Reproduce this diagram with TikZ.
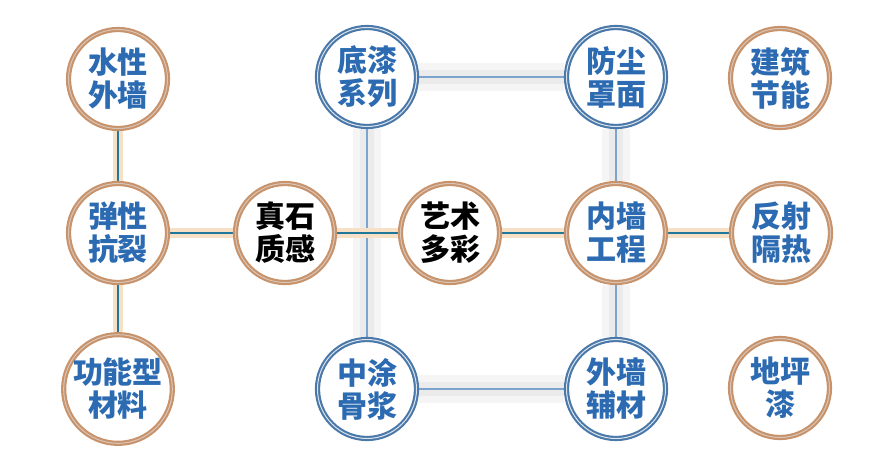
\documentclass[tikz,border=0pt]{standalone}
\usepackage{fontspec}
\usepackage{xcolor}
\usepackage{tikz}
\usetikzlibrary{backgrounds}
\newfontfamily\cjk{Noto Sans CJK SC}
\definecolor{txtblue}{HTML}{2C6BB2}
\definecolor{copper}{HTML}{C8926A}
\definecolor{copperdk}{HTML}{9C6E52}
\definecolor{ringblue}{HTML}{4A78A8}
\definecolor{tealline}{HTML}{1F789C}
\definecolor{glow}{HTML}{F6E0C6}
\definecolor{sqline}{HTML}{7DA4CF}
\tikzset{
  ball/.style  ={circle, fill=white, minimum size=49.5pt, inner sep=0pt, align=center,
                 font=\cjk\bfseries\fontsize{15}{16.5}\selectfont, text=txtblue},
  cball/.style ={ball, draw=copper, line width=2.6pt, postaction={draw=copperdk!40, line width=0.5pt}},
  bball/.style ={ball, draw=ringblue, line width=2.6pt, postaction={draw=white!80!ringblue, line width=0.5pt}},
  dark/.style  ={text=black},
  link/.style  ={draw=tealline, line width=1.1pt, preaction={draw=glow, line width=5pt}},
  frame/.style ={draw=sqline, line width=0.9pt,
                 preaction={draw=gray!8, line width=14pt},
                 preaction={draw=gray!16, line width=7pt}},
}
\begin{document}
\begin{tikzpicture}[x=0.5pt,y=-0.5pt]
  \useasboundingbox (0,0) rectangle (896,461);
  % top row
  \node[cball] (sx) at (118,79)  {水性\\外墙};
  \node[bball] (dq) at (367,77)  {底漆\\系列};
  \node[bball] (fc) at (616,77)  {防尘\\罩面};
  \node[cball] (jz) at (780,78)  {建筑\\节能};
  % middle row
  \node[cball] (tx) at (118,233) {弹性\\抗裂};
  \node[cball, dark] (zs) at (285,233) {真石\\质感};
  \node[cball, dark] (ys) at (450,233) {艺术\\多彩};
  \node[cball] (nq) at (616,233) {内墙\\工程};
  \node[cball] (fs) at (781,233) {反射\\隔热};
  % bottom row
  \node[cball] (gn) at (118,389) {功能型\\材料};
  \node[bball] (zt) at (367,389) {中涂\\骨浆};
  \node[bball] (wf) at (616,389) {外墙\\辅材};
  \node[cball] (dp) at (780,388) {地坪\\漆};
  \begin{scope}[on background layer]
    % square of primer / finish products
    \draw[frame] (dq) -- (fc);
    \draw[frame] (zt) -- (wf);
    \draw[frame] (dq) -- (zt);
    \draw[frame] (fc) -- (nq);
    \draw[frame] (nq) -- (wf);
    % main links
    \draw[link] (sx) -- (tx);
    \draw[link] (tx) -- (gn);
    \draw[link] (tx) -- (zs);
    \draw[link] (zs) -- (ys);
    \draw[link] (ys) -- (nq);
    \draw[link] (nq) -- (fs);
  \end{scope}
\end{tikzpicture}
\end{document}
